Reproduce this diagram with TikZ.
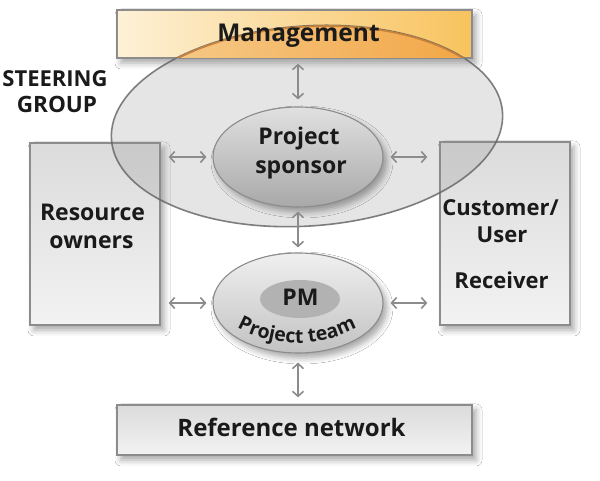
\documentclass[tikz,border=0pt]{standalone}
\usepackage{fontspec}
\setmainfont{Open Sans}
\usetikzlibrary{arrows.meta,shadows.blur,decorations.text,calc,shapes.geometric}
\definecolor{txt}{HTML}{1A1A1A}
\definecolor{edge}{HTML}{8C8C8C}
\definecolor{orgL}{HTML}{FDF1D6}
\definecolor{orgR}{HTML}{F8C35E}
\definecolor{ovL}{HTML}{F6CF92}
\definecolor{ovR}{HTML}{F2A646}
\definecolor{ovEdge}{HTML}{C9823C}
\newcommand\lblfont{\fontsize{23}{27}\selectfont\bfseries}
\newcommand\teamfont{\fontsize{19.5}{19.5}\selectfont\bfseries}
\tikzset{
  x=1pt, y=1pt,
  boxshadow/.style={blur shadow={shadow xshift=4pt, shadow yshift=-5pt, shadow blur radius=6pt, shadow opacity=35}},
  box/.style={rectangle, draw=edge, line width=1.3pt, inner sep=0pt, top color=black!14, bottom color=black!5, boxshadow},
  lbl/.style={font=\lblfont, text=txt, inner sep=0pt, anchor=base},
  oval/.style={ellipse, draw=edge, line width=1.1pt, inner sep=0pt, boxshadow},
  conn/.style={draw=edge, line width=1.6pt, {Straight Barb[length=5pt,width=11pt]}-{Straight Barb[length=5pt,width=11pt]}},
}
\begin{document}
\begin{tikzpicture}
\useasboundingbox (0,0) rectangle (600,481);
\fill[white] (0,0) rectangle (600,481);
% boxes
\node[box, minimum width=355pt, minimum height=48pt, left color=orgL, right color=orgR] (mgmt) at (294.5,447) {};
\node[box, minimum width=355pt, minimum height=50pt] (ref) at (294.5,51) {};
\node[box, minimum width=130pt, minimum height=182pt] (res) at (95,247) {};
\node[box, minimum width=130pt, minimum height=183pt] (cust) at (505,247.5) {};
% steering group ellipse
\node[ellipse, rotate=4, minimum width=392pt, minimum height=200pt, inner sep=0pt,
      fill=black!45, fill opacity=0.22, draw=black!62, draw opacity=0.8, line width=1.6pt] (steer) at (307,355) {};
% overlap of the steering group with management
\begin{scope}
  \clip (mgmt.south west) rectangle (mgmt.north east);
  \clip[rotate around={4:(307,355)}] (307,355) ellipse [x radius=196pt, y radius=100pt];
  \fill[left color=ovL, right color=ovR] (mgmt.south west) rectangle (mgmt.north east);
  \draw[rotate around={4:(307,355)}, draw=ovEdge, line width=3.2pt] (307,355) ellipse [x radius=196pt, y radius=100pt];
  \draw[edge, line width=1.3pt] (mgmt.south west) -- (mgmt.south east);
\end{scope}
% sponsor and PM
\node[oval, minimum width=170pt, minimum height=100pt, top color=black!12, bottom color=black!34] (sponsor) at (298,324) {};
\node[oval, minimum width=170pt, minimum height=100pt, top color=black!6, bottom color=black!24] (pm) at (298,178) {};
\node[ellipse, minimum width=80pt, minimum height=38pt, inner sep=0pt, fill=black!30] (pmin) at (300,182) {};
% labels
\node[lbl, font=\fontsize{24.5}{27}\selectfont\bfseries] (tmgmt) at (298.5,439) {Management};
\node[lbl, font=\fontsize{24}{27}\selectfont\bfseries] (tref) at (291.5,44) {Reference network};
\node[lbl] (tres1) at (92.5,260) {Resource};
\node[lbl] (tres2) at (91.5,232) {owners};
\node[lbl, font=\fontsize{22}{27}\selectfont\bfseries] (tcus1) at (500.5,265) {Customer/};
\node[lbl, font=\fontsize{22}{27}\selectfont\bfseries] (tcus2) at (502,238) {User};
\node[lbl, font=\fontsize{22}{27}\selectfont\bfseries] (tcus3) at (501.5,192) {Receiver};
\node[lbl] (tsp1) at (299,336) {Project};
\node[lbl] (tsp2) at (301,307) {sponsor};
\node[lbl] (tpm) at (300.5,175) {PM};
\node[lbl, font=\fontsize{22}{27}\selectfont\bfseries] (tst1) at (55,394) {STEERING};
\node[lbl, font=\fontsize{22.5}{27}\selectfont\bfseries] (tst2) at (57,368) {GROUP};
\path[decorate, decoration={text along path, text={|\teamfont\color{txt}|Project team}, text align=center}]
  (297,263) ++(230:125) arc[start angle=230, end angle=310, radius=125];
% connectors
\draw[conn, shorten <=7pt, shorten >=5pt] (sponsor.north) -- (sponsor.north |- mgmt.south);
\draw[conn, shorten <=4pt, shorten >=5pt] (sponsor.south) -- (sponsor.south |- pm.north);
\draw[conn, shorten <=9pt, shorten >=7pt] (pm.south) -- (pm.south |- ref.north);
\draw[conn, shorten <=6pt, shorten >=8pt] (sponsor.west) -- (sponsor.west -| res.east);
\draw[conn, shorten <=7pt, shorten >=12pt] (sponsor.east) -- (sponsor.east -| cust.west);
\draw[conn, shorten <=6pt, shorten >=8pt] (pm.west) -- (pm.west -| res.east);
\draw[conn, shorten <=7pt, shorten >=12pt] (pm.east) -- (pm.east -| cust.west);
\end{tikzpicture}
\end{document}
